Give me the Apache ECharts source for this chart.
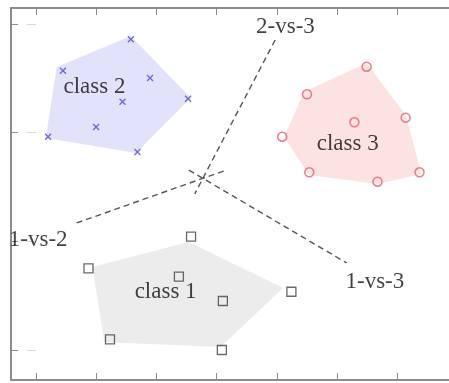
<!DOCTYPE html>
<html>
<head>
<meta charset="utf-8">
<style>
  html, body { margin: 0; padding: 0; background: #fff; overflow: hidden; }
  #chart { width: 449px; height: 383px; }
</style>
<script src="https://cdn.jsdelivr.net/npm/echarts@6/dist/echarts.min.js"></script>
</head>
<body>
<div id="chart"></div>
<script>
// sample points per class, in axis units (x tick = 1, y tick = 1)
const class1Points = [
  [2.576, 1.043], [0.874, 0.752], [2.374, 0.675], [3.104, 0.451],
  [4.241, 0.536], [1.231, 0.098], [3.087, 0.000]
];
const class2Points = [
  [1.577, 2.859], [0.450, 2.570], [1.895, 2.503], [2.527, 2.312],
  [1.439, 2.285], [1.000, 2.052], [0.203, 1.963], [1.686, 1.822]
];
const class3Points = [
  [5.489, 2.607], [4.500, 2.353], [6.137, 2.138], [5.286, 2.095],
  [4.088, 1.963], [4.538, 1.635], [6.367, 1.635], [5.670, 1.549]
];

// shaded class regions
const class1Region = [[0.940, 0.764], [2.538, 0.994], [4.104, 0.571], [3.066, 0.028], [1.137, 0.074]];
const class2Region = [[1.577, 2.889], [0.346, 2.604], [0.165, 1.951], [1.665, 1.813], [2.571, 2.319]];
const class3Region = [[5.489, 2.641], [4.450, 2.374], [4.121, 1.960], [4.533, 1.610], [5.670, 1.528], [6.395, 1.620], [6.148, 2.153]];

// pairwise decision boundaries
const line1vs2 = [[0.676, 1.169], [3.165, 1.656]];
const line1vs3 = [[2.538, 1.656], [5.159, 0.801]];
const line2vs3 = [[3.972, 2.853], [2.637, 1.436]];

// text annotations
const labels = [
  [2.154, 0.536, "class 1"],
  [0.972, 2.420, "class 2"],
  [5.176, 1.896, "class 3"],
  [4.142, 2.975, "2-vs-3"],
  [0.040, 1.012, "1-vs-2"],
  [5.626, 0.629, "1-vs-3"]
];

const xTicks = [0, 1, 2, 3, 4, 5, 6];
const yTicks = [0, 1, 2, 3];

const regions = [class1Region, class2Region, class3Region];
const regionColors = ["#ececec", "#e2e2fa", "#fde2e2"];

const chart = echarts.init(document.getElementById("chart"));

const axisCommon = {
  type: "value",
  axisLine: { show: true, onZero: false, lineStyle: { color: "#8c8c8c", width: 2 } },
  axisTick: { show: true, inside: true, length: 7, lineStyle: { color: "#8c8c8c", width: 1 } },
  axisLabel: { show: false },
  splitLine: { show: false }
};

const dashed = (pts) => ({
  type: "line",
  data: pts,
  symbol: "none",
  silent: true,
  z: 4,
  lineStyle: { color: "#555", width: 1.4, type: [6, 4] }
});

// x range widened a bit so the right frame edge falls just outside the canvas
const xMax = 6.807 + 3 / 60.67;

chart.setOption({
  animation: false,
  grid: { left: 11, top: 8, right: -3, bottom: 3 },
  xAxis: [
    Object.assign({}, axisCommon, { min: -0.412, max: xMax, position: "bottom",
      axisTick: Object.assign({}, axisCommon.axisTick, { customValues: xTicks }) }),
    Object.assign({}, axisCommon, { min: -0.412, max: xMax, position: "top",
      axisTick: Object.assign({}, axisCommon.axisTick, { customValues: xTicks }) })
  ],
  yAxis: [
    Object.assign({}, axisCommon, { min: -0.276, max: 3.147, position: "left",
      axisTick: Object.assign({}, axisCommon.axisTick, { customValues: yTicks }) }),
    Object.assign({}, axisCommon, { min: -0.276, max: 3.147, position: "right",
      axisLine: { show: false },
      axisTick: Object.assign({}, axisCommon.axisTick, { length: 9, customValues: yTicks, lineStyle: { color: "#d8d8d8" } }) })
  ],
  series: [
    {
      type: "custom",
      clip: false,
      silent: true,
      z: 1,
      data: regions.map((r) => r[0]),
      renderItem: (params, api) => {
        const pts = regions[params.dataIndex].map((p) => api.coord(p));
        return {
          type: "polygon",
          shape: { points: pts },
          style: { fill: regionColors[params.dataIndex] }
        };
      }
    },
    dashed(line1vs2),
    dashed(line1vs3),
    dashed(line2vs3),
    {
      type: "scatter",
      data: class1Points,
      symbol: "rect",
      symbolSize: 9,
      z: 5,
      itemStyle: { color: "rgba(255,255,255,0)", borderColor: "#444", borderWidth: 1.3 }
    },
    {
      type: "scatter",
      data: class2Points,
      symbol: "path://M0,0L10,10M10,0L0,10",
      symbolSize: 6,
      z: 5,
      itemStyle: { color: "none", borderColor: "#4848c8", borderWidth: 1.3 }
    },
    {
      type: "scatter",
      data: class3Points,
      symbol: "circle",
      symbolSize: 9,
      z: 5,
      itemStyle: { color: "rgba(255,255,255,0)", borderColor: "#e0606e", borderWidth: 1.5 }
    },
    {
      type: "scatter",
      data: labels,
      symbolSize: 1,
      z: 6,
      silent: true,
      itemStyle: { color: "rgba(0,0,0,0)" },
      label: {
        show: true,
        position: "inside",
        formatter: (p) => p.data[2],
        fontFamily: "Liberation Serif",
        fontSize: 23,
        color: "#111"
      }
    }
  ]
});
</script>
</body>
</html>
